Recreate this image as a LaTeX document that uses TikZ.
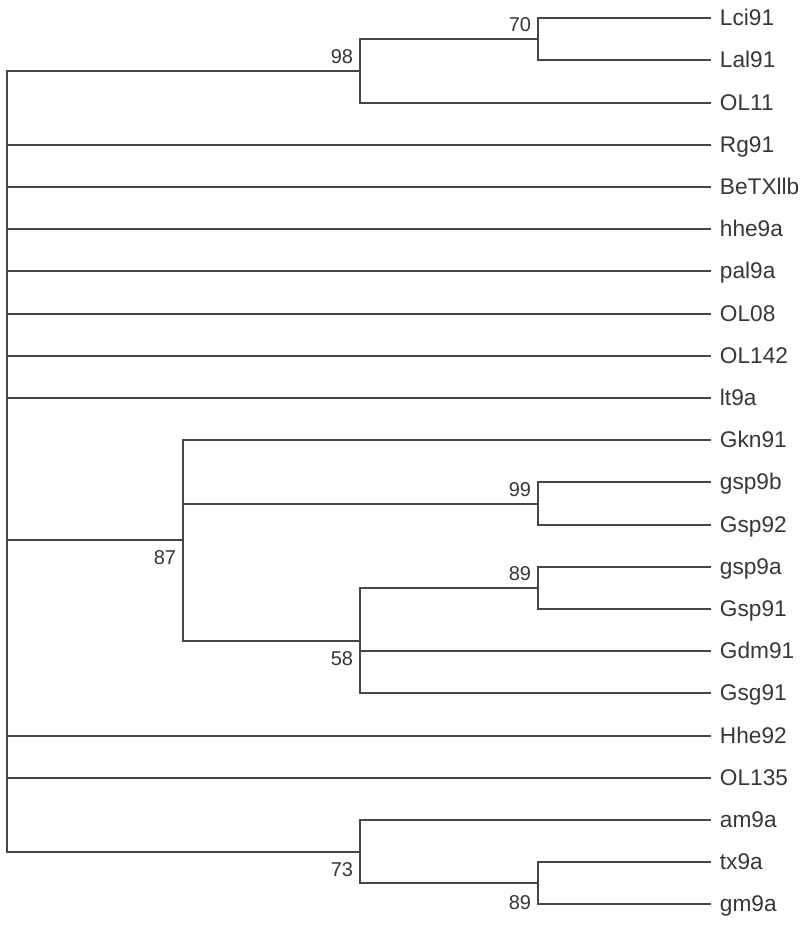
\documentclass[tikz,border=0pt]{standalone}
\usepackage{fontspec}
\setmainfont{Liberation Sans}
\usetikzlibrary{calc}
\definecolor{TreeGray}{RGB}{70,70,70}
\definecolor{TextGray}{RGB}{55,55,55}
\tikzset{
  branch/.style={draw=TreeGray, line width=1.5pt},
  taxon/.style={anchor=west, inner xsep=6.5pt, inner ysep=0pt, text height=11pt,
                text depth=0pt, text=TextGray, font=\fontsize{17}{19}\selectfont},
  bsup/.style={anchor=south east, inner xsep=5pt, inner ysep=5.5pt, text=TextGray,
               font=\fontsize{15}{17}\selectfont},
  bsdown/.style={anchor=north east, inner xsep=5pt, inner ysep=7.5pt, text=TextGray,
                 font=\fontsize{15}{17}\selectfont},
}
\begin{document}
\begin{tikzpicture}[x=0.75pt, y=-0.75pt]
  \useasboundingbox (0,0) rectangle (800,925);

  % taxa, top to bottom
  \node[taxon] (Lci91)   at (711, 18)  {Lci91};
  \node[taxon] (Lal91)   at (711, 60)  {Lal91};
  \node[taxon] (OL11)    at (711, 103) {OL11};
  \node[taxon] (Rg91)    at (711, 145) {Rg91};
  \node[taxon] (BeTXllb) at (711, 187) {BeTXllb};
  \node[taxon] (hhe9a)   at (711, 229) {hhe9a};
  \node[taxon] (pal9a)   at (711, 271) {pal9a};
  \node[taxon] (OL08)    at (711, 314) {OL08};
  \node[taxon] (OL142)   at (711, 356) {OL142};
  \node[taxon] (lt9a)    at (711, 398) {lt9a};
  \node[taxon] (Gkn91)   at (711, 440) {Gkn91};
  \node[taxon] (gsp9b)   at (711, 482) {gsp9b};
  \node[taxon] (Gsp92)   at (711, 525) {Gsp92};
  \node[taxon] (gsp9a)   at (711, 567) {gsp9a};
  \node[taxon] (Gsp91)   at (711, 609) {Gsp91};
  \node[taxon] (Gdm91)   at (711, 651) {Gdm91};
  \node[taxon] (Gsg91)   at (711, 693) {Gsg91};
  \node[taxon] (Hhe92)   at (711, 736) {Hhe92};
  \node[taxon] (OL135)   at (711, 778) {OL135};
  \node[taxon] (am9a)    at (711, 820) {am9a};
  \node[taxon] (tx9a)    at (711, 862) {tx9a};
  \node[taxon] (gm9a)    at (711, 904) {gm9a};

  % inner nodes
  \coordinate (root) at (7, 461);
  \coordinate (n98)  at (360, 71);
  \coordinate (n70)  at (538, 39);
  \coordinate (n87)  at (183, 540);
  \coordinate (n99)  at (538, 504);
  \coordinate (n58)  at (360, 641);
  \coordinate (n89a) at (538, 588);
  \coordinate (n73)  at (360, 852);
  \coordinate (n89b) at (538, 883);

  % branches
  \draw[branch] (root) |- (n98);
  \draw[branch] (root) |- (n73);
  \draw[branch] (root) |- (n87);
  \draw[branch] (root) |- (Rg91.west);
  \draw[branch] (root) |- (BeTXllb.west);
  \draw[branch] (root) |- (hhe9a.west);
  \draw[branch] (root) |- (pal9a.west);
  \draw[branch] (root) |- (OL08.west);
  \draw[branch] (root) |- (OL142.west);
  \draw[branch] (root) |- (lt9a.west);
  \draw[branch] (root) |- (Hhe92.west);
  \draw[branch] (root) |- (OL135.west);

  \draw[branch] (n98) |- (n70);
  \draw[branch] (n98) |- (OL11.west);
  \draw[branch] (n70) |- (Lci91.west);
  \draw[branch] (n70) |- (Lal91.west);

  \draw[branch] (n87) |- (Gkn91.west);
  \draw[branch] (n87) |- (n99);
  \draw[branch] (n87) |- (n58);
  \draw[branch] (n99) |- (gsp9b.west);
  \draw[branch] (n99) |- (Gsp92.west);
  \draw[branch] (n58) |- (n89a);
  \draw[branch] (n58) |- (Gdm91.west);
  \draw[branch] (n58) |- (Gsg91.west);
  \draw[branch] (n89a) |- (gsp9a.west);
  \draw[branch] (n89a) |- (Gsp91.west);

  \draw[branch] (n73) |- (am9a.west);
  \draw[branch] (n73) |- (n89b);
  \draw[branch] (n89b) |- (tx9a.west);
  \draw[branch] (n89b) |- (gm9a.west);

  % bootstrap values
  \node[bsup]   (b98)  at (n98)  {98};
  \node[bsup]   (b70)  at (n70)  {70};
  \node[bsdown] (b87)  at (n87)  {87};
  \node[bsup]   (b99)  at (n99)  {99};
  \node[bsdown] (b58)  at (n58)  {58};
  \node[bsup]   (b89a) at (n89a) {89};
  \node[bsdown] (b73)  at (n73)  {73};
  \node[bsdown, inner ysep=9pt] (b89b) at (n89b) {89};
\end{tikzpicture}
\end{document}
